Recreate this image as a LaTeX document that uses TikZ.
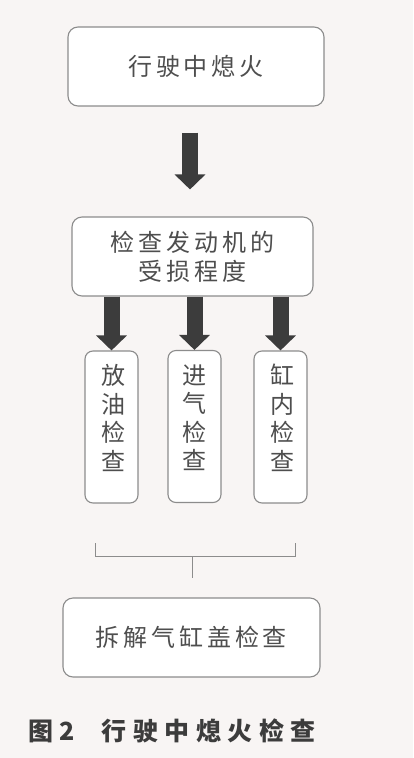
\documentclass[tikz,border=0pt]{standalone}
\usepackage{fontspec}
\usetikzlibrary{arrows.meta,calc}
\newfontfamily\cjk[LetterSpace=16]{Noto Sans CJK SC}
\newfontfamily\cjkcap[LetterSpace=26]{Noto Sans CJK SC}
\newfontfamily\cjkplain{Noto Sans CJK SC}
\definecolor{bg}{HTML}{F8F5F4}
\definecolor{boxline}{HTML}{8C8C8C}
\definecolor{txt}{HTML}{4E4E4E}
\definecolor{arr}{HTML}{3C3C3C}
\tikzset{
  box/.style={draw=boxline, line width=1.1pt, rounded corners=10pt, fill=white, inner sep=0pt, text=txt, align=center,
    font={\cjk\fontsize{24}{29}\selectfont}},
  smallbox/.style={draw=boxline, line width=1.1pt, rounded corners=8pt, fill=white, inner sep=0pt,
    minimum width=53pt, minimum height=152pt},
  vtext/.style={text=txt, align=center, inner sep=0pt, font={\cjkplain\fontsize{24}{28.5}\selectfont}},
  bigarrow/.style={draw=arr, line width=16pt, -{Triangle[width=30pt,length=15pt]}},
  bracketline/.style={draw=boxline, line width=1pt}
}
\begin{document}
\begin{tikzpicture}[x=1pt,y=-1pt]
\fill[bg] (0,0) rectangle (413,758);
\useasboundingbox (0,0) rectangle (413,758);

\node[box, minimum width=256pt, minimum height=79pt] (top) at (196,66.5) {行驶中熄火};
\node[box, minimum width=241pt, minimum height=79pt] (mid) at (192.5,256.5) {检查发动机的\\受损程度};

\node[smallbox] (s1) at (111.5,427) {};
\node[smallbox] (s2) at (194.5,426.5) {};
\node[smallbox] (s3) at (280.5,427) {};
\node[vtext] (t1) at ([yshift=9pt,xshift=1.5pt]s1.center) {放\\油\\检\\查};
\node[vtext] (t2) at ([yshift=9pt]s2.center) {进\\气\\检\\查};
\node[vtext] (t3) at ([yshift=9pt,xshift=1.5pt]s3.center) {缸\\内\\检\\查};

\node[box, minimum width=257pt, minimum height=79pt] (bot) at (191.5,637.5) {拆解气缸盖检查};

% arrows
\draw[bigarrow, shorten <=26pt, shorten >=27pt] ([xshift=-6pt]top.south) -- ([xshift=-2.5pt]mid.north);
\draw[bigarrow] (s1.north |- mid.south) -- (s1.north);
\draw[bigarrow] (s2.north |- mid.south) -- (s2.north);
\draw[bigarrow] (s3.north |- mid.south) -- (s3.north);

% bracket
\coordinate (bl) at (95,543);
\coordinate (br) at (295,543);
\coordinate (bm) at (192,556);
\coordinate (bs) at (192,578);
\draw[bracketline] (bl) -- (bl |- bm) -- (br |- bm) -- (br);
\draw[bracketline] (bm) -- (bs);

% caption
\node[anchor=west, inner sep=0pt, text=arr, font={\cjkcap\bfseries\fontsize{25}{25}\selectfont}] (cap) at (28,731) {图2\hspace{27pt}行驶中熄火检查};
\end{tikzpicture}
\end{document}
